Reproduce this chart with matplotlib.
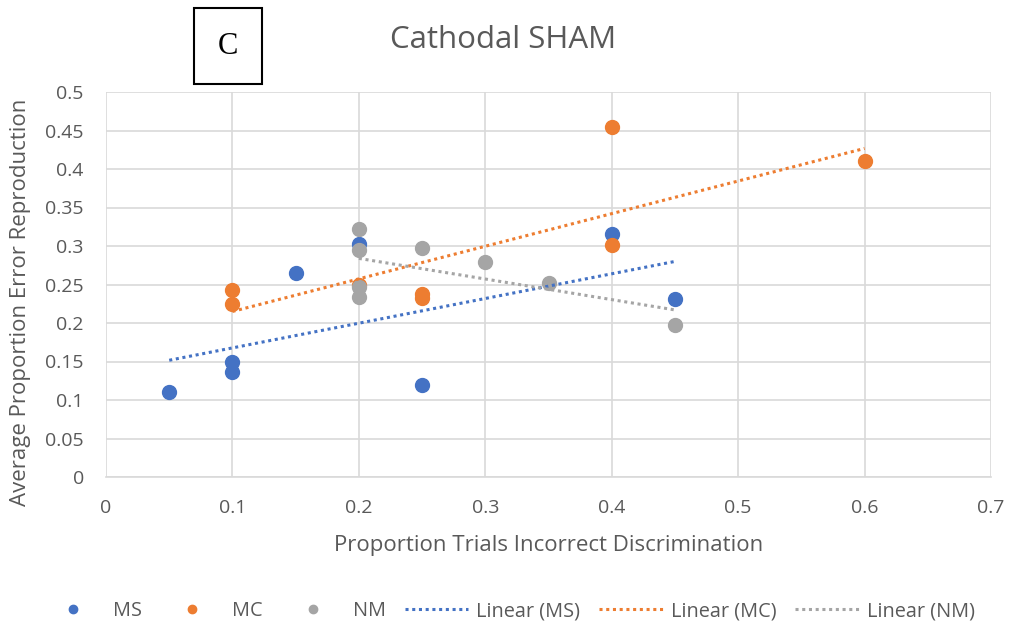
import numpy as np
import matplotlib
matplotlib.use("Agg")
import matplotlib.pyplot as plt
from matplotlib.patches import Rectangle

plt.rcParams['font.family'] = ['Open Sans', 'DejaVu Sans']

# data
ms_x = [0.05, 0.1, 0.1, 0.15, 0.2, 0.25, 0.4, 0.45]
ms_y = [0.111, 0.150, 0.137, 0.265, 0.302, 0.119, 0.315, 0.231]

mc_x = [0.1, 0.1, 0.2, 0.25, 0.25, 0.4, 0.4, 0.6]
mc_y = [0.243, 0.225, 0.249, 0.238, 0.233, 0.455, 0.301, 0.411]

nm_x = [0.2, 0.2, 0.2, 0.2, 0.25, 0.3, 0.35, 0.45]
nm_y = [0.322, 0.295, 0.247, 0.234, 0.297, 0.279, 0.252, 0.198]

x_ticks = [0, 0.1, 0.2, 0.3, 0.4, 0.5, 0.6, 0.7]
y_ticks = [0, 0.05, 0.1, 0.15, 0.2, 0.25, 0.3, 0.35, 0.4, 0.45, 0.5]

c_ms = '#4472c4'
c_mc = '#ed7d31'
c_nm = '#a5a5a5'
txt = '#595959'

fig = plt.figure(figsize=(10.12, 6.3), dpi=100)
ax = fig.add_axes([106/1012, 1-477/630, (991-106)/1012, (477-92)/630])

series = [('MS', ms_x, ms_y, c_ms), ('MC', mc_x, mc_y, c_mc), ('NM', nm_x, nm_y, c_nm)]

handles = []
for name, xs, ys, col in series:
    h, = ax.plot(xs, ys, 'o', color=col, markersize=10, label=name, zorder=3)
    handles.append(h)

# linear trendlines (least squares, like excel)
for name, xs, ys, col in series:
    k, b = np.polyfit(xs, ys, 1)
    xx = np.array([min(xs), max(xs)])
    h, = ax.plot(xx, k*xx + b, color=col, lw=2.2, linestyle=(0, (1, 1.2)),
                 label='Linear (%s)' % name, zorder=4)
    handles.append(h)

ax.set_xlim(0, 0.7)
ax.set_ylim(0, 0.5)
ax.set_xticks(x_ticks)
ax.set_xticklabels([('%g' % v) for v in x_ticks])
ax.set_yticks(y_ticks)
ax.set_yticklabels([('%g' % v) for v in y_ticks])
ax.grid(True, color='#d9d9d9', lw=1.2)
ax.set_axisbelow(True)
for s in ['top', 'right', 'left']:
    ax.spines[s].set_visible(False)
ax.spines['bottom'].set_color('#d9d9d9')
ax.spines['bottom'].set_linewidth(1.2)
ax.tick_params(axis='both', length=0, colors=txt, labelsize=14)
ax.tick_params(axis='y', pad=16)
ax.tick_params(axis='x', pad=16)

ax.set_xlabel('Proportion Trials Incorrect Discrimination', color=txt, fontsize=16, labelpad=13)
ax.set_ylabel('Average Proportion Error Reproduction', color=txt, fontsize=16)
ax.yaxis.set_label_coords(-0.085, 0.455)

fig.text(503/1012, 1-40/630, 'Cathodal SHAM', color=txt, fontsize=22.5, ha='center', va='center')

# panel letter box
fig.patches.append(Rectangle((194/1012, 1-84/630), 68/1012, 76/630, transform=fig.transFigure,
                             fill=False, edgecolor='black', lw=1.5))
fig.text(228/1012, 1-46/630, 'C', family='Liberation Serif', fontsize=22, ha='center', va='center')

leg = fig.legend(handles=handles, loc='center', bbox_to_anchor=(508/1012, 1-611/630), ncol=6,
                 frameon=False, fontsize=14.3, handlelength=3.2, columnspacing=0.95, handletextpad=0.4,
                 numpoints=1, markerscale=0.6)
for t in leg.get_texts():
    t.set_color(txt)

fig.savefig('out.png', dpi=100)
